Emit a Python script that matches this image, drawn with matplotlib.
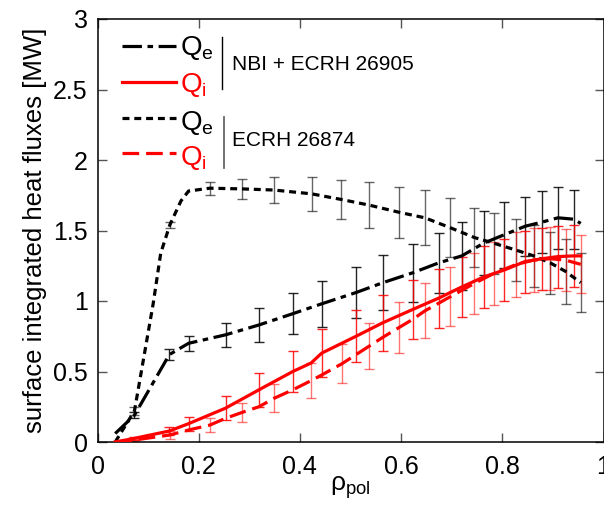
import matplotlib
matplotlib.use("Agg")
import matplotlib.pyplot as plt
from matplotlib.lines import Line2D
import numpy as np

plt.rcParams['font.family'] = ['Liberation Sans', 'DejaVu Sans']
plt.rcParams['mathtext.fontset'] = 'custom'
plt.rcParams['mathtext.rm'] = 'Liberation Sans'
plt.rcParams['lines.scale_dashes'] = False

# ---------------- data ----------------
# NBI + ECRH 26905, electron heat flux
nbi_qe_x = [0.035, 0.073, 0.142, 0.180, 0.253, 0.319, 0.386, 0.443, 0.511, 0.564, 0.623, 0.674,
            0.720, 0.763, 0.804, 0.845, 0.879, 0.910, 0.942, 0.955]
nbi_qe_y = [0.06, 0.19, 0.62, 0.70, 0.76, 0.83, 0.91, 0.98, 1.06, 1.13, 1.20, 1.27,
            1.32, 1.41, 1.47, 1.53, 1.56, 1.59, 1.58, 1.55]
nbi_qe_err = [0.0, 0.02, 0.04, 0.055, 0.085, 0.12, 0.145, 0.165, 0.18, 0.195, 0.205, 0.21,
              0.24, 0.225, 0.235, 0.21, 0.22, 0.22, 0.21, 0.0]

# NBI + ECRH 26905, ion heat flux
nbi_qi_x = [0.035, 0.073, 0.142, 0.180, 0.253, 0.319, 0.386, 0.422, 0.443, 0.511, 0.564, 0.623,
            0.674, 0.720, 0.763, 0.804, 0.845, 0.879, 0.910, 0.942, 0.955]
nbi_qi_y = [0.00, 0.026, 0.078, 0.13, 0.24, 0.37, 0.50, 0.56, 0.63, 0.75, 0.846, 0.94,
            1.02, 1.10, 1.17, 1.22, 1.28, 1.30, 1.315, 1.32, 1.32]
nbi_qi_err = [0.0, 0.01, 0.03, 0.05, 0.085, 0.12, 0.145, 0.0, 0.17, 0.185, 0.20, 0.21,
              0.21, 0.21, 0.22, 0.22, 0.22, 0.22, 0.22, 0.22, 0.0]

# ECRH 26874, electron heat flux
ecrh_qe_x = [0.035, 0.073, 0.110, 0.125, 0.143, 0.165, 0.180, 0.222, 0.286, 0.349, 0.423, 0.482,
             0.537, 0.595, 0.647, 0.697, 0.745, 0.783, 0.828, 0.862, 0.895, 0.925, 0.955]
ecrh_qe_y = [0.00, 0.22, 0.98, 1.34, 1.54, 1.71, 1.78, 1.80, 1.795, 1.787, 1.76, 1.72,
             1.68, 1.63, 1.59, 1.52, 1.45, 1.41, 1.36, 1.32, 1.27, 1.21, 1.13]
ecrh_qe_err = [0.0, 0.03, 0.0, 0.0, 0.02, 0.0, 0.0, 0.045, 0.07, 0.095, 0.12, 0.14,
               0.165, 0.18, 0.195, 0.21, 0.21, 0.215, 0.22, 0.22, 0.22, 0.23, 0.21]

# ECRH 26874, ion heat flux
ecrh_qi_x = [0.035, 0.073, 0.143, 0.180, 0.222, 0.253, 0.286, 0.319, 0.349, 0.386, 0.422, 0.443,
             0.483, 0.511, 0.537, 0.565, 0.595, 0.623, 0.647, 0.697, 0.745, 0.783, 0.828,
             0.862, 0.895, 0.925, 0.955]
ecrh_qi_y = [0.00, 0.014, 0.05, 0.085, 0.12, 0.168, 0.21, 0.25, 0.31, 0.37, 0.435, 0.475,
             0.555, 0.62, 0.68, 0.745, 0.81, 0.87, 0.93, 1.03, 1.125, 1.195, 1.26,
             1.29, 1.30, 1.29, 1.26]
ecrh_qi_err = [0.0, 0.01, 0.03, 0.0, 0.05, 0.0, 0.07, 0.0, 0.10, 0.0, 0.125, 0.0,
               0.14, 0.0, 0.165, 0.0, 0.18, 0.0, 0.195, 0.21, 0.215, 0.225, 0.23,
               0.225, 0.225, 0.22, 0.205]

x_ticks = [0, 0.2, 0.4, 0.6, 0.8, 1]
x_ticklabels = ['0', '0.2', '0.4', '0.6', '0.8', '1']
y_ticks = [0, 0.5, 1, 1.5, 2, 2.5, 3]
y_ticklabels = ['0', '0.5', '1', '1.5', '2', '2.5', '3']

# ---------------- figure ----------------
W, H = 604, 508
fig = plt.figure(figsize=(W / 100, H / 100), dpi=100)
ax = fig.add_axes([97.5 / W, (H - 442) / H, 506 / W, 423 / H])

RED = '#ff0000'
LW = 2.3
styles = {
    'nbi_qe': dict(color='black', ls=(0, (14, 4, 4, 4)), lw=LW),
    'nbi_qi': dict(color=RED, ls='-', lw=LW),
    'ecrh_qe': dict(color='black', ls=(0, (5, 3.5)), lw=LW),
    'ecrh_qi': dict(color=RED, ls=(0, (12, 5)), lw=LW),
}

def draw(xs, ys, errs, key, ecolor, alpha):
    xs = np.asarray(xs); ys = np.asarray(ys); errs = np.asarray(errs)
    m = errs > 0
    ax.errorbar(xs[m], ys[m], yerr=errs[m], fmt='none', ecolor=ecolor, elinewidth=1.0,
                capsize=3.5, capthick=1.0, alpha=alpha, zorder=2)
    ax.plot(xs, ys, zorder=3, **styles[key])

draw(ecrh_qe_x, ecrh_qe_y, ecrh_qe_err, 'ecrh_qe', 'black', 0.6)
draw(nbi_qe_x, nbi_qe_y, nbi_qe_err, 'nbi_qe', 'black', 0.85)
draw(ecrh_qi_x, ecrh_qi_y, ecrh_qi_err, 'ecrh_qi', RED, 0.55)
draw(nbi_qi_x, nbi_qi_y, nbi_qi_err, 'nbi_qi', RED, 0.85)

ax.set_xlim(0, 1)
ax.set_ylim(0, 3)
ax.set_xticks(x_ticks)
ax.set_xticklabels(x_ticklabels)
ax.set_yticks(y_ticks)
ax.set_yticklabels(y_ticklabels)
ax.tick_params(direction='in', length=6.5, width=1.0, labelsize=18, top=True, right=True,
               color='#555555')
ax.tick_params(axis='x', pad=9)
ax.tick_params(axis='y', pad=7)
for s in ax.spines.values():
    s.set_linewidth(1.1)

ax.set_ylabel('surface integrated heat fluxes [MW]', fontsize=18.5, labelpad=4)
ax.set_xlabel(r'$\mathregular{\rho_{pol}}$', fontsize=19, labelpad=-3)

# ---------------- legend ----------------
def fx(px):
    return (px - 97.5) / 506

def fy(py):
    return (442 - py) / 423

legend_rows = [
    ('nbi_qe', 'e', 'black', 46, 55),
    ('nbi_qi', 'i', RED, 82, 92),
    ('ecrh_qe', 'e', 'black', 118, 130),
    ('ecrh_qi', 'i', RED, 153, 165),
]
for key, sub, col, ly, base in legend_rows:
    st = styles[key]
    ax.add_line(Line2D([fx(122), fx(176)], [fy(ly), fy(ly)], transform=ax.transAxes,
                       color=st['color'], ls=st['ls'], lw=st['lw'], clip_on=False))
    ax.text(fx(180), fy(base), r'$\mathregular{Q_{%s}}$' % sub, transform=ax.transAxes,
            color=col, fontsize=20, ha='left', va='baseline')

ax.add_line(Line2D([fx(222), fx(222)], [fy(37), fy(89)], transform=ax.transAxes,
                   color='black', lw=1.0))
ax.add_line(Line2D([fx(224), fx(224)], [fy(117), fy(168)], transform=ax.transAxes,
                   color='#666666', lw=1.3))
ax.text(fx(232), fy(70), 'NBI + ECRH 26905', transform=ax.transAxes, fontsize=15,
        ha='left', va='baseline')
ax.text(fx(232), fy(146), 'ECRH 26874', transform=ax.transAxes, fontsize=15,
        ha='left', va='baseline')

fig.savefig('out.png', dpi=100)
